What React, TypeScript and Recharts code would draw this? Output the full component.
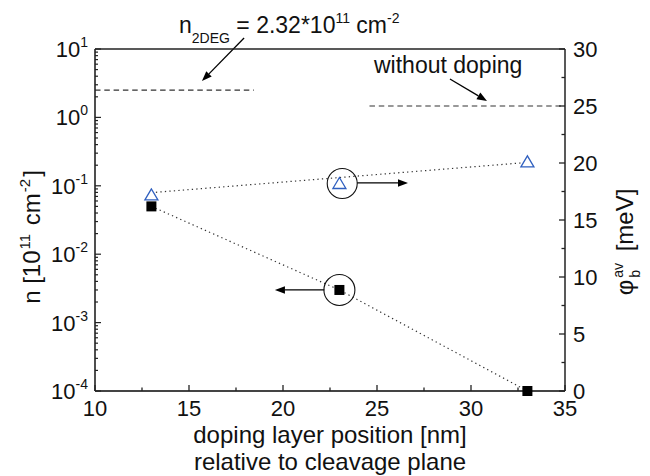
import React from 'react';
import { ComposedChart, Line, XAxis, YAxis, ReferenceLine, ReferenceDot } from 'recharts';

// doping layer position [nm]
const positions = [13, 23, 33];
// n [10^11 cm^-2], left log axis
const density = [0.05, 0.003, 0.0001];
// phi_b^av [meV], right axis
const barrier = [17.2, 18.2, 20.1];
// dotted guide through the triangles
const barrierFit = [17.4, null, 20.05];

const n2deg = 2.5;
const phiUndoped = 25;

const xTicks = [10, 12.5, 15, 17.5, 20, 22.5, 25, 27.5, 30, 32.5, 35];
const xMajor = [10, 15, 20, 25, 30, 35];
const decades = [-4, -3, -2, -1, 0, 1];
const mantissas = [1, 2, 3, 4, 5, 6, 7, 8, 9];
const phiTicks = [0, 2.5, 5, 7.5, 10, 12.5, 15, 17.5, 20, 22.5, 25, 27.5, 30];
const phiMajor = [0, 5, 10, 15, 20, 25, 30];

const nTicks = decades.flatMap((d) => (d === 1 ? [1] : mantissas).map((m) => m * Math.pow(10, d)));

const data = positions.map((x, i) => ({ x, n: density[i], phi: barrier[i], phiFit: barrierFit[i] }));

const FONT = '"Liberation Sans", Arial, Helvetica, sans-serif';
const AXIS = '#222';
const BLUE = '#2f5fbf';

const isDecade = (v: number) => Math.abs(Math.log10(v) - Math.round(Math.log10(v))) < 1e-6;

const BottomTick = ({ x, y, payload }: any) => {
  const major = xMajor.includes(payload.value);
  return (
    <g>
      <line x1={x} y1={y} x2={x} y2={y - (major ? 6 : 3.5)} stroke={AXIS} strokeWidth={1.3} />
      {major && (
        <text x={x} y={y + 25} textAnchor="middle" fontSize={22} fontFamily={FONT} fill="#111">
          {payload.value}
        </text>
      )}
    </g>
  );
};

const TopTick = ({ x, y, payload }: any) => {
  const major = xMajor.includes(payload.value);
  return <line x1={x} y1={y} x2={x} y2={y + (major ? 6 : 3.5)} stroke={AXIS} strokeWidth={1.3} />;
};

const LeftTick = ({ x, y, payload }: any) => {
  const major = isDecade(payload.value);
  const exp = Math.round(Math.log10(payload.value));
  return (
    <g>
      <line x1={x} y1={y} x2={x + (major ? 6 : 3)} y2={y} stroke={AXIS} strokeWidth={1.2} />
      {major && (
        <text x={x - 7} y={y + 8} textAnchor="end" fontSize={22} fontFamily={FONT} fill="#111">
          10
          <tspan dy={-10} fontSize={14}>
            {String(exp)}
          </tspan>
        </text>
      )}
    </g>
  );
};

const RightTick = ({ x, y, payload }: any) => {
  const major = phiMajor.includes(payload.value);
  return (
    <g>
      <line x1={x} y1={y} x2={x - (major ? 6 : 3.5)} y2={y} stroke={AXIS} strokeWidth={1.3} />
      {major && (
        <text x={x + 8} y={y + 8} textAnchor="start" fontSize={22} fontFamily={FONT} fill="#111">
          {payload.value}
        </text>
      )}
    </g>
  );
};

const SquareDot = ({ cx, cy }: any) =>
  cx == null || cy == null ? null : <rect x={cx - 5} y={cy - 5} width={10} height={10} fill="#000" />;

const TriangleDot = ({ cx, cy }: any) =>
  cx == null || cy == null ? null : (
    <polygon
      points={`${cx},${cy - 6} ${cx - 6.5},${cy + 5} ${cx + 6.5},${cy + 5}`}
      fill="#fff"
      stroke={BLUE}
      strokeWidth={1.3}
    />
  );

const Arrow = (p: any) => {
  const { x1, y1, x2, y2 } = p;
  const a = Math.atan2(y2 - y1, x2 - x1);
  const len = 10;
  const half = 3.8;
  const bx = x2 - len * Math.cos(a);
  const by = y2 - len * Math.sin(a);
  const nx = -Math.sin(a) * half;
  const ny = Math.cos(a) * half;
  return (
    <g>
      <line x1={x1} y1={y1} x2={bx} y2={by} stroke="#000" strokeWidth={1.3} />
      <polygon points={`${x2},${y2} ${bx + nx},${by + ny} ${bx - nx},${by - ny}`} fill="#000" />
    </g>
  );
};

export default function App() {
  return (
    <div style={{ position: 'absolute', left: 0, top: 0, width: 650, height: 476, background: '#fff', fontFamily: FONT }}>
      <ComposedChart width={650} height={476} data={data} margin={{ top: 39, right: 25, bottom: 55, left: 35 }}>
        <XAxis
          dataKey="x"
          type="number"
          domain={[10, 35]}
          ticks={xTicks}
          interval={0}
          height={30}
          tickSize={0}
          tickMargin={0}
          tickLine={false}
          tick={<BottomTick />}
          axisLine={{ stroke: '#444', strokeWidth: 2 }}
        />
        <XAxis
          xAxisId="top"
          orientation="top"
          type="number"
          domain={[10, 35]}
          ticks={xTicks}
          interval={0}
          height={10}
          tickSize={0}
          tickMargin={0}
          tickLine={false}
          tick={<TopTick />}
          axisLine={{ stroke: AXIS, strokeWidth: 1.5 }}
        />
        <YAxis
          yAxisId="n"
          orientation="left"
          scale="log"
          type="number"
          domain={[0.0001, 10]}
          ticks={nTicks}
          interval={0}
          width={60}
          tickSize={0}
          tickMargin={0}
          tickLine={false}
          tick={<LeftTick />}
          axisLine={{ stroke: AXIS, strokeWidth: 1.6 }}
        />
        <YAxis
          yAxisId="phi"
          orientation="right"
          type="number"
          domain={[0, 30]}
          ticks={phiTicks}
          interval={0}
          width={60}
          tickSize={0}
          tickMargin={0}
          tickLine={false}
          tick={<RightTick />}
          axisLine={{ stroke: AXIS, strokeWidth: 1.5 }}
        />

        <ReferenceLine
          yAxisId="n"
          ifOverflow="visible"
          segment={[{ x: 10, y: n2deg }, { x: 18.45, y: n2deg }]}
          stroke="#333"
          strokeWidth={1.2}
          strokeDasharray="5.5 3.8"
        />
        <ReferenceLine
          yAxisId="phi"
          ifOverflow="visible"
          segment={[{ x: 24.6, y: phiUndoped }, { x: 35, y: phiUndoped }]}
          stroke="#333"
          strokeWidth={1.2}
          strokeDasharray="5.5 3.8"
        />

        <Line
          yAxisId="phi"
          dataKey="phiFit"
          type="linear"
          connectNulls
          stroke="#333"
          strokeWidth={1.2}
          strokeDasharray="1.3 3.2"
          dot={false}
          activeDot={false}
          isAnimationActive={false}
        />
        <Line
          yAxisId="n"
          dataKey="n"
          type="linear"
          stroke="#333"
          strokeWidth={1.2}
          strokeDasharray="1.3 3.2"
          dot={<SquareDot />}
          activeDot={false}
          isAnimationActive={false}
        />
        <Line
          yAxisId="phi"
          dataKey="phi"
          type="linear"
          stroke="none"
          dot={<TriangleDot />}
          activeDot={false}
          isAnimationActive={false}
        />

        <ReferenceDot yAxisId="phi" x={23.15} y={18.2} r={15} fill="none" stroke="#111" strokeWidth={1.1} />
        <ReferenceDot yAxisId="n" x={23} y={0.003} r={15.5} fill="none" stroke="#111" strokeWidth={1.1} />

        <ReferenceLine yAxisId="phi" ifOverflow="visible" segment={[{ x: 17.93, y: 30.96 }, { x: 15.69, y: 27.19 }]} shape={Arrow} />
        <ReferenceLine yAxisId="phi" ifOverflow="visible" segment={[{ x: 28.88, y: 27.37 }, { x: 30.85, y: 25.44 }]} shape={Arrow} />
        <ReferenceLine yAxisId="phi" ifOverflow="visible" segment={[{ x: 23.94, y: 18.25 }, { x: 26.65, y: 18.25 }]} shape={Arrow} />
        <ReferenceLine yAxisId="n" ifOverflow="visible" segment={[{ x: 22.2, y: 0.003 }, { x: 19.57, y: 0.003 }]} shape={Arrow} />
      </ComposedChart>

      <svg
        width={650}
        height={476}
        style={{ position: 'absolute', left: 0, top: 0, pointerEvents: 'none' }}
        fontFamily={FONT}
        fill="#111"
      >
        <text x={179} y={33} fontSize={23}>
          n
          <tspan dy={10} fontSize={14}>2DEG</tspan>
          <tspan dy={-10}>{' = 2.32*10'}</tspan>
          <tspan dy={-10} fontSize={14}>11</tspan>
          <tspan dy={10}>{' cm'}</tspan>
          <tspan dy={-10} fontSize={14}>-2</tspan>
        </text>
        <text x={374} y={73} fontSize={23}>without doping</text>

        <text x={330} y={443} fontSize={24} textAnchor="middle">doping layer position [nm]</text>
        <text x={330} y={470} fontSize={24} textAnchor="middle">relative to cleavage plane</text>

        <text transform="translate(40,237) rotate(-90)" fontSize={24} textAnchor="middle">
          {'n [10'}
          <tspan dx={1} dy={-10} fontSize={15}>11</tspan>
          <tspan dx={2} dy={10}>{' cm'}</tspan>
          <tspan dx={1} dy={-10} fontSize={15}>-2</tspan>
          <tspan dx={2} dy={10}>]</tspan>
        </text>

        <text transform="translate(633,242) rotate(-90)" fontSize={24} textAnchor="middle">
          φ
          <tspan dx={2} dy={7} fontSize={14}>b</tspan>
          <tspan dx={-7.8} dy={-17} fontSize={14}>av</tspan>
          <tspan dx={5} dy={10}>{' [meV]'}</tspan>
        </text>
      </svg>
    </div>
  );
}
